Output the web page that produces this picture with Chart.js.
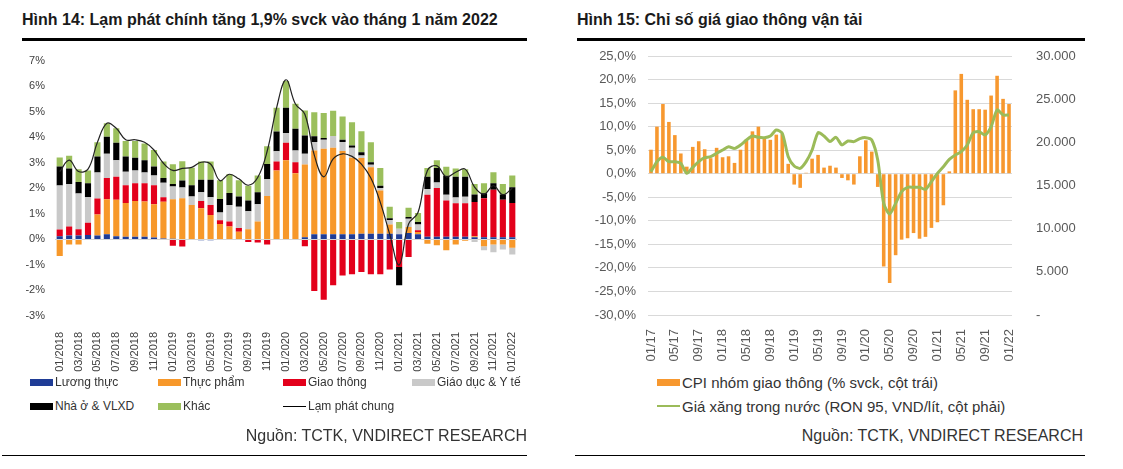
<!DOCTYPE html>
<html>
<head>
<meta charset="utf-8">
<script src="https://cdn.jsdelivr.net/npm/chart.js@4.4.1/dist/chart.umd.min.js"></script>
<style>
  body { margin:0; width:1123px; height:469px; background:#fff; position:relative; overflow:hidden;
         font-family:"Liberation Sans", Arial, sans-serif; color:#222; }
  .title { position:absolute; top:11px; font-weight:bold; font-size:16px; color:#1a1a1a; }
  .rule { position:absolute; background:#000; }
  .src { position:absolute; top:427px; font-size:16px; text-align:right; color:#333; }
  .leg { position:absolute; font-size:12px; color:#333; display:flex; align-items:center; white-space:nowrap; height:16px; }
  .leg2 { font-size:15px; }
  .sw { display:inline-block; width:23px; height:7px; margin-right:2px; }
  .ln { display:inline-block; width:23px; height:1px; background:#000; margin-right:2px; }
  canvas { position:absolute; }
</style>
</head>
<body>

<div class="title" style="left:22px">Hình 14: Lạm phát chính tăng 1,9% svck vào tháng 1 năm 2022</div>
<div class="rule" style="left:22px; top:38px; width:505px; height:3px"></div>
<canvas id="c1" width="535" height="331" style="left:0; top:44px; width:535px; height:331px"></canvas>

<div class="leg" style="left:30px; top:374px"><span class="sw" style="background:#1F3C96"></span>Lương thực</div>
<div class="leg" style="left:158px; top:374px"><span class="sw" style="background:#F7982A"></span>Thực phẩm</div>
<div class="leg" style="left:283px; top:374px"><span class="sw" style="background:#E3001B"></span>Giao thông</div>
<div class="leg" style="left:412px; top:374px"><span class="sw" style="background:#C9C9C9"></span>Giáo dục &amp; Y tế</div>
<div class="leg" style="left:30px; top:398px"><span class="sw" style="background:#000"></span>Nhà ở &amp; VLXD</div>
<div class="leg" style="left:158px; top:398px"><span class="sw" style="background:#9BBF5C"></span>Khác</div>
<div class="leg" style="left:283px; top:398px"><span class="ln"></span>Lạm phát chung</div>

<div class="src" style="left:0; width:527px">Nguồn: TCTK, VNDIRECT RESEARCH</div>
<div class="rule" style="left:2px; top:455px; width:525px; height:1px"></div>

<div class="title" style="left:577px">Hình 15: Chỉ số giá giao thông vận tải</div>
<div class="rule" style="left:577px; top:38px; width:508px; height:3px"></div>
<canvas id="c2" width="548" height="342" style="left:575px; top:28px; width:548px; height:342px"></canvas>

<div class="leg leg2" style="left:657px; top:374px"><span class="sw" style="background:#F7982F"></span>CPI nhóm giao thông (% svck, cột trái)</div>
<div class="leg leg2" style="left:657px; top:398px"><span class="ln" style="background:#9BBB59; height:2px"></span>Giá xăng trong nước (RON 95, VND/lít, cột phải)</div>

<div class="src" style="left:575px; width:508px">Nguồn: TCTK, VNDIRECT RESEARCH</div>
<div class="rule" style="left:575px; top:455px; width:510px; height:1px"></div>

<script>
// Hình 14 - dữ liệu
const thang1 = ['01/2018','02/2018','03/2018','04/2018','05/2018','06/2018','07/2018','08/2018','09/2018','10/2018','11/2018','12/2018',
  '01/2019','02/2019','03/2019','04/2019','05/2019','06/2019','07/2019','08/2019','09/2019','10/2019','11/2019','12/2019',
  '01/2020','02/2020','03/2020','04/2020','05/2020','06/2020','07/2020','08/2020','09/2020','10/2020','11/2020','12/2020',
  '01/2021','02/2021','03/2021','04/2021','05/2021','06/2021','07/2021','08/2021','09/2021','10/2021','11/2021','12/2021',
  '01/2022'];

const luongThuc = [0.12,0.15,0.15,0.17,0.15,0.20,0.12,0.10,0.10,0.10,0.07,0.03,
  0.02,0.01,0.00,-0.03,-0.03,-0.02,0,0,0,0,0,0,
  0,0,0.08,0.20,0.20,0.20,0.20,0.20,0.22,0.22,0.22,0.22,
  0.20,0.25,0.20,0.10,0.10,0.10,0.10,0.10,0.08,0.08,0.08,0.08,
  0.08];
const thucPham = [-0.65,-0.20,-0.20,0,0.82,1.37,1.43,1.32,1.40,1.38,1.31,1.44,
  1.55,1.60,1.35,1.22,0.95,0.60,0.50,0.30,0.40,0.70,1.70,2.70,
  3.10,2.59,2.85,3.28,3.35,3.39,3.26,3.00,2.97,2.60,1.69,0.36,
  0,0.23,0.09,-0.17,-0.23,-0.43,-0.20,-0.05,0.04,-0.27,-0.20,-0.20,
  -0.33];
const giaoThong = [0.27,0.35,0.25,0.48,0.63,0.83,0.90,0.70,0.70,0.72,0.74,0.18,
  -0.25,-0.28,0,0.28,0.40,0.15,0.20,0.15,-0.10,-0.12,-0.20,0.35,
  0.68,0.43,-0.27,-2.02,-2.36,-1.80,-1.41,-1.37,-1.28,-1.37,-1.37,-1.18,
  -1.08,-0.69,0.07,1.65,1.91,1.42,1.31,1.31,1.34,1.53,1.86,1.47,
  1.34];
const giaoDucYTe = [1.72,1.67,1.40,1.00,1.02,0.95,0.65,0.53,0.50,0.42,0.38,0.57,
  0.50,0.42,0.33,0.35,0.30,0.30,0.65,0.83,0.70,0.68,0.65,0.40,
  0.39,0.46,0.42,0.33,0.35,0.46,0.35,0.39,0.09,0.10,0.10,0.18,
  0.22,0.33,0.22,0.22,0.22,0.23,0.23,0.26,-0.10,-0.16,-0.30,-0.20,
  -0.26];
const nhaO = [0.74,0.61,0.45,0.55,0.63,0.67,0.68,0.60,0.50,0.48,0.35,0.18,
  0.10,0.28,0.44,0.48,0.68,0.53,0.47,0.40,0.42,0.47,0.60,0.77,
  0.98,0.85,0.72,0.23,0.07,0,0.09,0.09,0.13,0.10,0.09,0.07,
  -0.72,0.07,0.10,0.48,0.56,0.74,0.81,0.78,0.30,0.20,0.26,0.21,
  0.62];
const khac = [0.36,0.49,0.50,0.50,0.55,0.53,0.57,0.60,0.65,0.65,0.65,0.65,
  0.77,0.75,0.68,0.72,0.72,0.74,0.73,0.64,0.58,0.65,0.70,0.93,
  1.05,0.98,0.98,0.94,0.98,0.99,0.91,0.91,0.82,0.78,0.69,0.45,
  0.26,0.36,0.35,0.34,0.31,0.35,0.33,0.30,0.41,0.39,0.43,0.41,
  0.46];
const lamPhatChung = [2.65,3.10,2.66,2.75,3.80,4.55,4.35,3.90,3.90,3.80,3.50,2.98,
  2.70,2.78,2.82,3.02,2.95,2.30,2.55,2.37,2.12,2.42,3.45,5.15,
  6.25,5.30,4.90,3.30,2.45,3.15,3.35,3.25,2.95,2.40,1.45,0.20,
  -1.00,0.60,1.05,2.70,2.88,2.45,2.63,2.75,2.05,1.77,2.10,1.75,
  2.00];

// Hình 15 - dữ liệu
const thang2 = ['01/17','02/17','03/17','04/17','05/17','06/17','07/17','08/17','09/17','10/17','11/17','12/17',
  '01/18','02/18','03/18','04/18','05/18','06/18','07/18','08/18','09/18','10/18','11/18','12/18',
  '01/19','02/19','03/19','04/19','05/19','06/19','07/19','08/19','09/19','10/19','11/19','12/19',
  '01/20','02/20','03/20','04/20','05/20','06/20','07/20','08/20','09/20','10/20','11/20','12/20',
  '01/21','02/21','03/21','04/21','05/21','06/21','07/21','08/21','09/21','10/21','11/21','12/21',
  '01/22'];
const cpiGiaoThong = [5.1,10.0,14.8,11.0,8.2,4.3,1.5,5.7,6.9,5.2,3.3,5.5,
  3.5,3.7,2.3,5.1,7.0,9.0,10.0,7.4,7.2,8.3,8.5,2.1,
  -2.3,-3.0,0.2,3.2,4.0,1.3,1.7,1.3,-0.9,-1.4,-2.3,3.7,
  7.1,4.7,-2.8,-19.7,-23.2,-17.3,-14.0,-13.7,-12.6,-13.8,-13.4,-11.5,
  -10.3,-6.7,0.5,17.7,21.2,15.7,13.7,13.7,13.6,16.6,20.8,15.9,
  14.8];
const giaXang = [16600,17760,18270,17760,17760,17570,16410,17100,17760,18220,18340,18730,
  19110,19500,19300,19690,20270,20730,20580,20540,20730,21430,21040,18340,
  17260,16990,17760,19110,21120,20730,20100,20580,19700,20150,20080,20430,
  20540,20270,17950,12930,11700,12930,14290,14790,14790,14790,14560,15440,
  16410,17180,18030,18530,18920,19690,21120,21230,20850,21810,23750,23170,
  23170];

Chart.defaults.font.family = '"Liberation Sans", Arial, sans-serif';
Chart.defaults.animation = false;

function barSet(label, data, color) {
  return { type: 'bar', label: label, data: data, backgroundColor: color, order: 2,
           barPercentage: 0.65, categoryPercentage: 1 };
}

new Chart(document.getElementById('c1'), {
  data: {
    labels: thang1,
    datasets: [
      barSet('Lương thực', luongThuc, '#1F3C96'),
      barSet('Thực phẩm', thucPham, '#F7982A'),
      barSet('Giao thông', giaoThong, '#E3001B'),
      barSet('Giáo dục & Y tế', giaoDucYTe, '#C9C9C9'),
      barSet('Nhà ở & VLXD', nhaO, '#000000'),
      barSet('Khác', khac, '#9BBF5C'),
      { type: 'line', label: 'Lạm phát chung', data: lamPhatChung, stack: 'line', order: 1,
        borderColor: '#222', borderWidth: 1.2, pointRadius: 0, tension: 0.4, fill: false }
    ]
  },
  options: {
    responsive: false,
    layout: { padding: { left: 0, right: 18, top: 4, bottom: 0 } },
    plugins: { legend: { display: false }, tooltip: { enabled: false } },
    scales: {
      x: {
        stacked: true,
        grid: { display: false },
        border: { display: false },
        ticks: {
          autoSkip: false, minRotation: 90, maxRotation: 90, padding: 8,
          color: '#404040', font: { size: 11 },
          callback: function(v, i) { return i % 2 === 0 ? thang1[i] : ''; }
        },
        afterFit: function(s) { s.height = 59; }
      },
      y: {
        stacked: true, min: -3, max: 7,
        grid: { drawTicks: false, color: function(c) { return c.tick.value === 0 ? '#d4d4d4' : 'transparent'; } },
        border: { display: false },
        ticks: { stepSize: 1, padding: 10, color: '#404040', font: { size: 11 },
                 callback: function(v) { return v + '%'; } },
        afterFit: function(s) { s.width = 55; }
      }
    }
  }
});

new Chart(document.getElementById('c2'), {
  data: {
    labels: thang2,
    datasets: [
      { type: 'line', label: 'Giá xăng trong nước (RON 95, VND/lít, cột phải)', data: giaXang, yAxisID: 'yR', order: 1,
        borderColor: '#9BBB59', borderWidth: 3, pointRadius: 0, tension: 0.25, fill: false },
      { type: 'bar', label: 'CPI nhóm giao thông (% svck, cột trái)', data: cpiGiaoThong, yAxisID: 'y', order: 2,
        backgroundColor: '#F7982F', barPercentage: 0.6, categoryPercentage: 1 }
    ]
  },
  options: {
    responsive: false,
    layout: { padding: { left: 0, right: 0, top: 28, bottom: 0 } },
    plugins: { legend: { display: false }, tooltip: { enabled: false } },
    scales: {
      x: {
        grid: { display: false },
        border: { display: false },
        ticks: {
          autoSkip: false, minRotation: 90, maxRotation: 90, padding: 6,
          color: '#595959', font: { size: 13 },
          callback: function(v, i) { return i % 4 === 0 ? thang2[i] : ''; }
        },
        afterFit: function(s) { s.height = 55; }
      },
      y: {
        position: 'left', min: -30, max: 25,
        grid: { drawTicks: false, color: '#d9d9d9' },
        border: { display: false },
        ticks: { stepSize: 5, padding: 12, color: '#595959', font: { size: 13 },
                 callback: function(v) { return v.toFixed(1).replace('.', ',') + '%'; } },
        afterFit: function(s) { s.width = 73; }
      },
      yR: {
        position: 'right', min: 0, max: 30000,
        grid: { display: false },
        border: { display: false },
        ticks: { stepSize: 5000, padding: 16, color: '#595959', font: { size: 13 },
                 callback: function(v) { return v === 0 ? '-' : String(v).replace(/\B(?=(\d{3})+(?!\d))/g, '.'); } },
        afterFit: function(s) { s.width = 111; }
      }
    }
  }
});
</script>
</body>
</html>
